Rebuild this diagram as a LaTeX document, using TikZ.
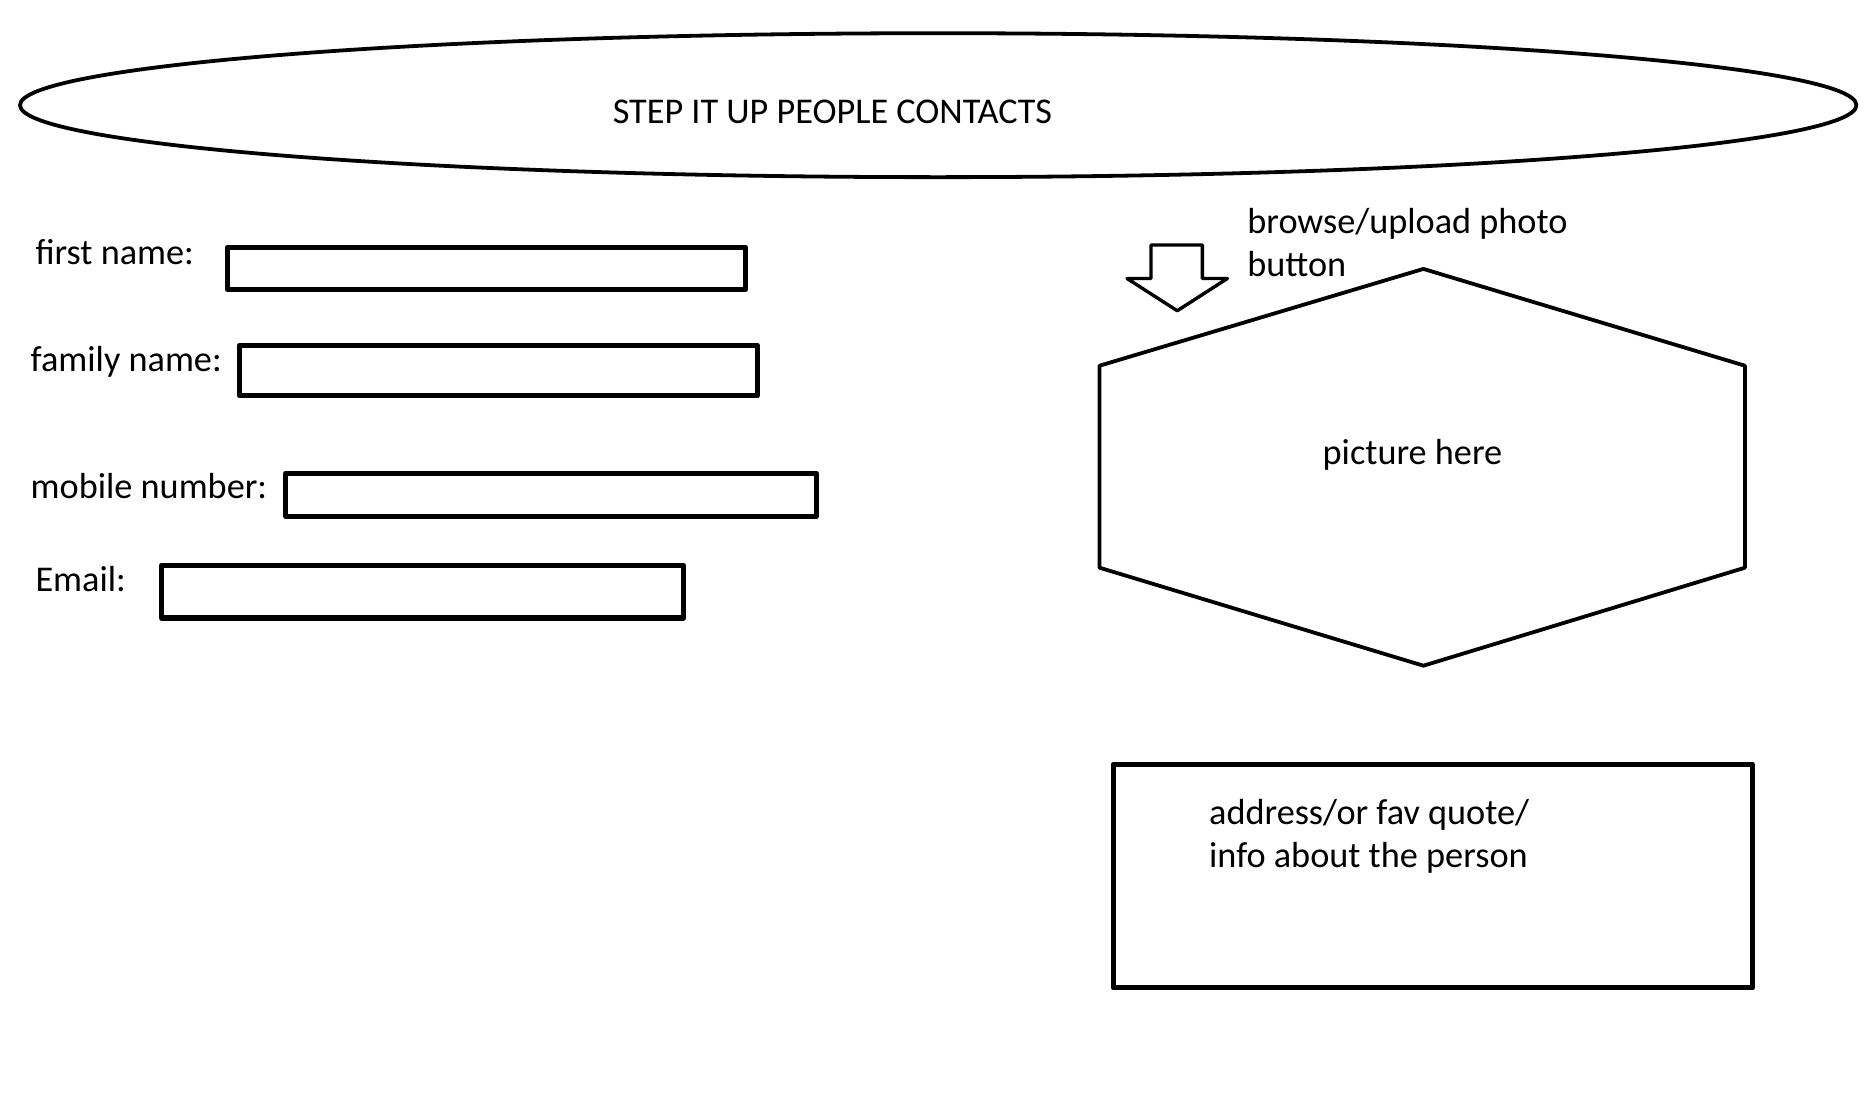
\documentclass[tikz,border=0pt]{standalone}
\usepackage{fontspec}
\setmainfont{Carlito}
\usetikzlibrary{calc}
\tikzset{
	lbl/.style={anchor=base west, inner sep=0pt, font=\fontsize{8.6}{10.4}\selectfont},
	field/.style={draw, line width=1.2pt, inner sep=0pt}
}

\begin{document}
\begin{tikzpicture}[x=0.00996cm, y=-0.00996cm, line cap=round, line join=round]
    \useasboundingbox (0,0) rectangle (1568,933.7);

    \draw[line width=0.9pt] (785,88) ellipse [x radius=7.655cm, y radius=0.60cm];
    \node[lbl] (title) at (512,103) {STEP IT UP PEOPLE CONTACTS};

    \node[lbl] (fnlbl)   at (29,221)  {first name:};
    \node[lbl] (famlbl)  at (25,311)  {family name:};
    \node[lbl] (moblbl)  at (25,417)  {mobile number:};
    \node[lbl] (maillbl) at (29,495)  {Email:};

    \node[field, minimum width=4.32cm, minimum height=0.35cm] (fn)   at (407,224.5) {};
    \node[field, minimum width=4.32cm, minimum height=0.42cm] (fam)  at (417,310)   {};
    \node[field, minimum width=4.42cm, minimum height=0.36cm] (mob)  at (461,414)   {};
    \node[field, minimum width=4.35cm, minimum height=0.44cm] (mail) at (353.5,495) {};

    \coordinate (H0) at (1191,225);
    \coordinate (H1) at (1460,306);
    \coordinate (H2) at (1460,475);
    \coordinate (H3) at (1191,557);
    \coordinate (H4) at (920,475);
    \coordinate (H5) at (920,306);
    \draw[line width=0.9pt] (H0)--(H1)--(H2)--(H3)--(H4)--(H5)--cycle;
    \node[lbl] (pic) at (1106,389) {picture here};

    \tikzset{arr/.style={line width=0.8pt}}
    \draw[arr] (963,205) -- (1006,205) -- (1006,233) -- (1027,233) -- (985,260)
        -- (943,233) -- (963,233) -- cycle;
    \node[lbl] (browse) at (1043,195) {browse/upload photo};
    \node[lbl] (button) at (1043,231) {button};

    \node[field, minimum width=5.33cm, minimum height=1.864cm] (info) at (1198.8,733.1) {};
    \node[lbl] (addr)   at (1011,690) {address/or fav quote/};
    \node[lbl] (person) at (1011,726) {info about the person};
  \end{tikzpicture}
\end{document}
